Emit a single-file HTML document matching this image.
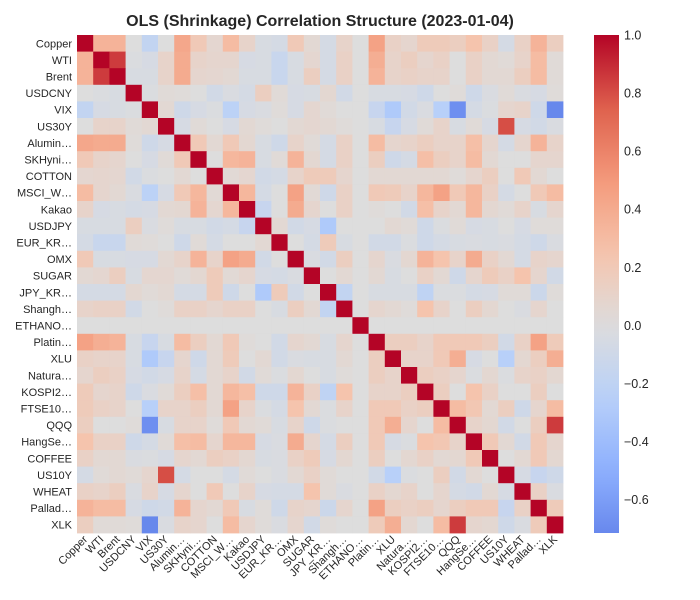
<!DOCTYPE html>
<html><head><meta charset="utf-8"><title>OLS Correlation Heatmap</title>
<style>
html,body{margin:0;padding:0;background:#fff;}
svg{display:block;font-family:"Liberation Sans",Arial,sans-serif;}
</style></head>
<body>
<svg id="chart" width="700" height="600" xmlns="http://www.w3.org/2000/svg">
<text x="320" y="26" text-anchor="middle" font-size="16" font-weight="bold" fill="#262626">OLS (Shrinkage) Correlation Structure (2023-01-04)</text>
<defs><linearGradient id="cbgrad" x1="0" y1="1" x2="0" y2="0"></linearGradient></defs>
<g id="cells"></g>
<g id="ylabels"></g>
<g id="xlabels"></g>
<g id="colorbar"></g>
</svg>
<script>
const labels = ["Copper","WTI","Brent","USDCNY","VIX","US30Y","Alumin…","SKHyni…","COTTON","MSCI_W…","Kakao","USDJPY","EUR_KR…","OMX","SUGAR","JPY_KR…","Shangh…","ETHANO…","Platin…","XLU","Natura…","KOSPI2…","FTSE10…","QQQ","HangSe…","COFFEE","US10Y","WHEAT","Pallad…","XLK"];
const row00 = [1,.35,.35,0,-.18,0,.42,.2,.07,.3,.1,-.04,-.06,.2,.05,-.06,.1,0,.45,.12,.08,.18,.18,.15,.25,.12,-.06,.12,.35,.15];
const row01 = [.35,1,.85,-.02,-.05,.1,.4,.1,.08,.08,-.05,-.04,-.14,-.04,.07,-.06,.12,0,.38,.1,.15,.08,.12,0,.12,.05,.03,.1,.3,.03];
const row02 = [.35,.85,1,-.04,-.04,.1,.4,.08,.07,.05,-.04,-.04,-.14,-.04,.15,-.06,.12,0,.35,.1,.12,.1,.1,0,.12,.05,.05,.15,.3,.03];
const row03 = [0,-.02,-.04,1,-.02,.03,.02,0,-.08,-.03,-.06,.15,.03,-.05,-.04,.06,-.08,0,-.04,-.04,-.05,-.1,0,.02,-.1,-.03,.03,-.03,-.05,.02];
const row04 = [-.18,-.05,-.04,-.02,1,.05,-.1,-.05,-.02,-.22,-.05,-.03,.02,-.05,.07,.03,0,0,-.15,-.3,-.08,-.03,-.25,-.68,-.06,-.02,.08,.1,-.1,-.72];
const row05 = [0,.1,.1,.03,.05,1,-.05,.03,0,-.05,.05,.02,0,.05,.07,.05,.02,0,-.04,-.15,-.05,.03,.1,-.04,.03,-.05,.8,-.05,-.08,-.03];
const row06 = [.42,.4,.4,.02,-.1,-.05,1,.2,.05,.2,.06,-.04,-.1,.1,.03,-.06,.12,0,.3,.08,.1,.15,.1,.1,.28,.08,-.06,.08,.35,.1];
const row07 = [.2,.1,.08,0,-.05,.03,.2,1,0,.33,.35,-.04,.03,.35,.06,-.06,.12,0,.15,-.1,-.06,.28,.15,.1,.3,.05,0,0,.08,.08];
const row08 = [.07,.08,.07,-.08,-.02,0,.05,0,1,.04,.07,-.08,-.06,.1,.18,.18,.08,0,.05,.05,.05,.05,.05,.02,.08,.15,0,.2,.05,0];
const row09 = [.3,.08,.05,-.03,-.22,-.05,.2,.33,.04,1,.33,-.06,0,.45,.04,-.1,.12,0,.2,.18,.1,.33,.45,.2,.33,.12,-.06,0,.2,.3];
const row10 = [.1,-.05,-.04,-.06,-.05,.05,.06,.35,.07,.33,1,-.15,0,.4,.08,0,.12,0,.02,0,-.08,.28,.1,.05,.33,.06,.03,.1,-.04,.08];
const row11 = [-.04,-.04,-.04,.15,-.03,.02,-.04,-.04,-.08,-.06,-.15,1,.05,-.08,-.05,-.3,0,0,0,.05,.03,-.1,-.02,.03,-.05,-.04,0,-.05,.02,.02];
const row12 = [-.06,-.14,-.14,.03,.02,0,-.1,.03,-.06,0,0,.05,1,0,-.06,.18,-.04,0,-.08,-.08,-.02,-.1,-.06,-.04,-.03,-.04,-.03,-.06,-.1,-.03];
const row13 = [.2,-.04,-.04,-.05,-.05,.05,.1,.35,.1,.45,.4,-.08,0,1,-.03,-.08,.15,0,.08,-.03,.06,.35,.25,.1,.4,.12,.05,-.06,.1,.08];
const row14 = [.05,.07,.15,-.04,.07,.07,.03,.06,.18,.04,.08,-.05,-.06,-.03,1,0,.05,0,.05,-.04,0,.12,.05,-.1,.08,.18,.12,.25,.08,-.08];
const row15 = [-.06,-.06,-.06,.06,.03,.05,-.06,-.06,.18,-.1,0,-.3,.18,-.08,0,1,-.18,0,-.04,-.04,-.04,-.2,-.02,-.02,-.06,-.05,.03,.03,-.12,.02];
const row16 = [.1,.12,.12,-.08,0,.02,.12,.12,.08,.12,.12,0,-.04,.15,.05,-.18,1,0,.08,.05,.02,.25,.1,0,.15,.06,0,-.03,.08,0];
const row17 = [0,0,0,0,0,0,0,0,0,0,0,0,0,0,0,0,0,1,0,0,0,0,0,0,0,0,0,0,0,0];
const row18 = [.45,.38,.35,-.04,-.15,-.04,.3,.15,.05,.2,.02,0,-.08,.08,.05,-.04,.08,0,1,.15,.15,.1,.2,.2,.2,.15,-.08,.12,.45,.18];
const row19 = [.12,.1,.1,-.04,-.3,-.15,.08,-.1,.05,.18,0,.05,-.08,-.03,-.04,-.04,.05,0,.15,1,.1,.1,.2,.38,-.05,0,-.25,.06,.15,.38];
const row20 = [.08,.15,.12,-.05,-.08,-.05,.1,-.06,.05,.1,-.08,.03,-.02,.06,0,-.04,.02,0,.15,.1,1,.15,.12,.08,-.02,.06,-.02,.1,.12,.06];
const row21 = [.18,.08,.1,-.1,-.03,.03,.15,.28,.05,.33,.28,-.1,-.1,.35,.12,-.2,.25,0,.1,.1,.15,1,.15,0,.25,.12,0,0,.15,0];
const row22 = [.18,.12,.1,0,-.25,.1,.1,.15,.05,.45,.1,-.02,-.06,.25,.05,-.02,.1,0,.2,.2,.12,.15,1,.3,.22,.05,.15,-.1,.08,.3];
const row23 = [.15,0,0,.02,-.68,-.04,.1,.1,.02,.2,.05,.03,-.04,.1,-.1,-.02,0,0,.2,.38,.08,0,.3,1,.1,.06,-.08,0,.15,.85];
const row24 = [.25,.12,.12,-.1,-.06,.03,.28,.3,.08,.33,.33,-.05,-.03,.4,.08,-.06,.15,0,.2,-.05,-.02,.25,.22,.1,1,.2,.05,-.08,.2,.08];
const row25 = [.12,.05,.05,-.03,-.02,-.05,.08,.05,.15,.12,.06,-.04,-.03,.12,.18,-.05,.06,0,.15,0,.06,.12,.05,.06,.2,1,0,.05,.2,.06];
const row26 = [-.06,.03,.05,.03,.08,.8,-.06,0,0,-.06,.03,0,-.03,.05,.12,.03,0,0,-.08,-.25,-.02,0,.15,-.08,.05,0,1,-.05,-.15,-.1];
const row27 = [.12,.1,.15,-.03,.1,-.05,.08,0,.2,0,.1,-.05,-.06,-.06,.25,.03,-.03,0,.12,.06,.1,0,.08,-.06,-.08,.05,-.05,1,.12,-.03];
const row28 = [.35,.3,.3,-.05,-.1,-.08,.35,.08,.05,.2,-.04,.02,-.1,.1,.08,-.12,.08,0,.45,.15,.12,.15,.08,.15,.2,.2,-.15,.12,1,.18];
const row29 = [.15,.03,.03,.02,-.72,-.03,.1,.08,0,.3,.08,.02,-.03,.08,-.08,.02,0,0,.18,.38,.06,0,.3,.85,.08,.06,-.1,-.03,.18,1];
const matrix = [row00,row01,row02,row03,row04,row05,row06,row07,row08,row09,row10,row11,row12,row13,row14,row15,row16,row17,row18,row19,row20,row21,row22,row23,row24,row25,row26,row27,row28,row29];
const cbTicks = [1.0,0.8,0.6,0.4,0.2,0.0,-0.2,-0.4,-0.6];
const cbMin = -0.715, cbMax = 1.0;

const NS = "http://www.w3.org/2000/svg";
const X0 = 77, X1 = 563, Y0 = 35, Y1 = 533;
const n = labels.length;
const cw = (X1 - X0) / n, ch = (Y1 - Y0) / n;
const xPos = i => X0 + i * cw;
const yPos = i => Y0 + i * ch;

const stops = [[0,[59,76,192]],[0.125,[98,130,234]],[0.25,[141,176,254]],[0.375,[184,208,249]],[0.5,[221,221,221]],[0.625,[245,196,173]],[0.75,[244,154,123]],[0.875,[222,96,77]],[1,[180,4,38]]];
function color(v){
  let t = Math.max(0, Math.min(1, 0.5 + v / 2));
  for (let k = 0; k < stops.length - 1; k++){
    const [t0,c0] = stops[k], [t1,c1] = stops[k+1];
    if (t <= t1){
      const f = (t - t0) / (t1 - t0);
      return "rgb(" + c0.map((c,j)=>Math.round(c + (c1[j]-c)*f)).join(",") + ")";
    }
  }
  return "rgb(180,4,38)";
}
function mk(tag, attrs, parent){
  const e = document.createElementNS(NS, tag);
  for (const k in attrs) e.setAttribute(k, attrs[k]);
  parent.appendChild(e);
  return e;
}
const gCells = document.getElementById("cells");
matrix.forEach((row, r) => {
  row.forEach((v, c) => {
    const rect = mk("rect", {x: xPos(c), y: yPos(r), width: cw + 0.4, height: ch + 0.4, fill: color(v)}, gCells);
    
    
  });
});
const gy = document.getElementById("ylabels");
labels.forEach((l, i) => {
  const t = mk("text", {x: 72, y: yPos(i) + ch/2 + 4, "text-anchor": "end", "font-size": 11, fill: "#262626"}, gy);
  t.textContent = l;
  
  
});
const gx = document.getElementById("xlabels");
labels.forEach((l, i) => {
  const cx = xPos(i) + cw/2 + 3, cy = Y1 + 7;
  const t = mk("text", {x: cx, y: cy, "text-anchor": "end", "font-size": 11, fill: "#262626", transform: "rotate(-45 " + cx + " " + cy + ")"}, gx);
  t.textContent = l;
  
  
});
// colorbar
const CBX = 594, CBW = 25;
const cbY = v => Y0 + (cbMax - v) / (cbMax - cbMin) * (Y1 - Y0);
const grad = document.getElementById("cbgrad");
for (let k = 0; k <= 20; k++){
  const v = cbMin + (cbMax - cbMin) * k / 20;
  mk("stop", {offset: (k/20), "stop-color": color(v)}, grad);
}
const gcb = document.getElementById("colorbar");
const bar = mk("rect", {x: CBX, y: Y0, width: CBW, height: Y1 - Y0, fill: "url(#cbgrad)"}, gcb);


cbTicks.forEach(v => {
  const t = mk("text", {x: CBX + CBW + 5, y: cbY(v) + 4.5, "font-size": 12.5, fill: "#262626"}, gcb);
  t.textContent = (v < 0 ? "\u2212" : "") + Math.abs(v).toFixed(1);
  
  
});
</script>
</body></html>
